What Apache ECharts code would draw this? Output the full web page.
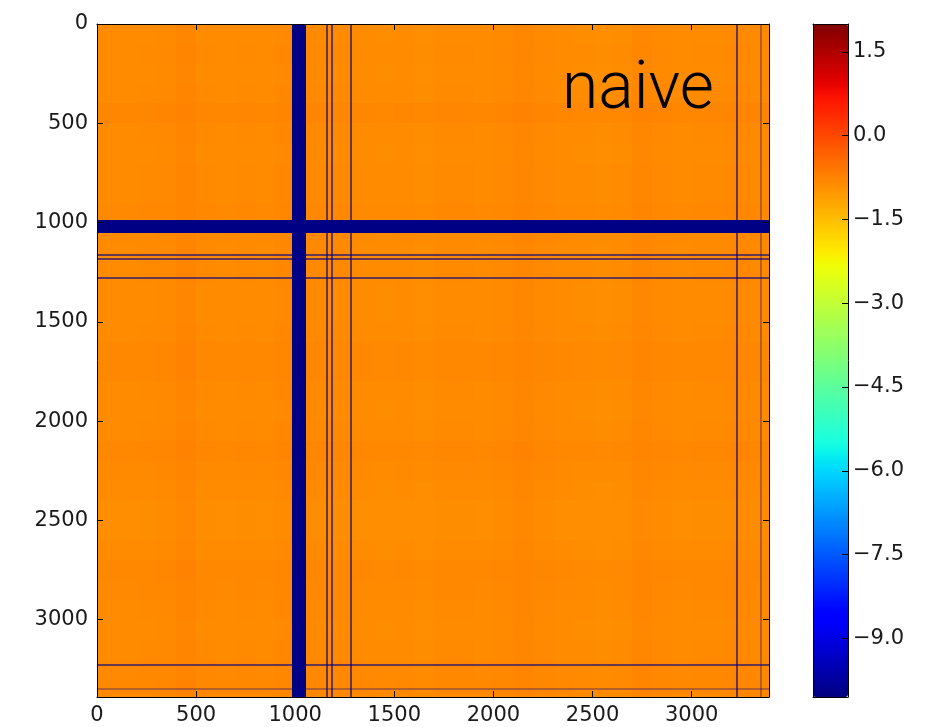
<!DOCTYPE html>
<html>
<head>
<meta charset="utf-8">
<script src="https://cdn.jsdelivr.net/npm/echarts@6/dist/echarts.min.js"></script>
<style>
  html, body { margin: 0; padding: 0; background: #fff; }
  #chart { width: 938px; height: 727px; }
</style>
</head>
<body>
<div id="chart"></div>
<script>
// Matrix size (rows = columns) and colour scale limits
const matrixSize = 3390;
const colorMin = -10.05;
const colorMax = 2.0;

// Tick labels
const axisTicks = [0, 500, 1000, 1500, 2000, 2500, 3000];
const colorbarTicks = [1.5, 0.0, -1.5, -3.0, -4.5, -6.0, -7.5, -9.0];

// Typical off-band value and its slow variation along rows / columns (per 100-index block)
const baseValue = -0.87;
const blockSize = 100;
const colTint = [0.00, 0.00, 0.01, 0.02, 0.07, 0.01, 0.00, 0.01, 0.00, 0.03,
                 0.02, 0.01, 0.01, 0.00, -0.01, 0.00, -0.02, 0.01, 0.01, 0.00,
                 0.02, 0.06, 0.02, 0.00, -0.01, -0.02, -0.01, 0.05, 0.02, 0.00,
                 0.01, 0.01, 0.03, 0.02];
const rowTint = [0.00, 0.01, 0.00, 0.01, 0.06, 0.01, 0.00, 0.01, 0.01, 0.03,
                 0.02, 0.01, 0.01, 0.00, 0.00, 0.01, 0.04, 0.04, 0.01, 0.00,
                 0.01, 0.05, 0.02, 0.00, -0.02, -0.02, 0.00, 0.04, 0.03, 0.01,
                 0.00, 0.01, 0.03, 0.04];

// Degenerate rows/columns (same index set for rows and columns)
const bandValue = -10.0;
const wideBands = [[985, 1055]];              // [start, end]
const narrowLines = [1157, 1180, 1276, 3222]; // start index
const faintLines = [3346];
const lineWidth = 10;

// ---- rectangle records [x0, x1, y0, y1, value] ----
const bgData = [];
for (let r = 0; r < rowTint.length; r++) {
  const y0 = r * blockSize, y1 = Math.min(matrixSize, (r + 1) * blockSize);
  for (let c = 0; c < colTint.length; c++) {
    const x0 = c * blockSize, x1 = Math.min(matrixSize, (c + 1) * blockSize);
    bgData.push([x0, x1, y0, y1, +(baseValue + rowTint[r] + colTint[c]).toFixed(3)]);
  }
}
function crossRects(ranges) {
  const out = [];
  ranges.forEach(([a, b]) => {
    out.push([a, b, 0, matrixSize, bandValue]);   // column
    out.push([0, matrixSize, a, b, bandValue]);   // row
  });
  return out;
}
const narrowData = crossRects(narrowLines.map(p => [p, p + lineWidth]));
const faintData = crossRects(faintLines.map(p => [p, p + lineWidth]));
const wideData = crossRects(wideBands);

// matplotlib "jet" colormap
function jet(f) {
  const clamp = v => Math.max(0, Math.min(1, v));
  let r, g, b;
  if (f < 0.35) r = 0; else if (f < 0.66) r = (f - 0.35) / 0.31; else if (f < 0.89) r = 1; else r = 1 - (f - 0.89) / 0.11 * 0.5;
  if (f < 0.125) g = 0; else if (f < 0.375) g = (f - 0.125) / 0.25; else if (f < 0.64) g = 1; else g = (0.91 - f) / 0.27;
  if (f < 0.11) b = 0.5 + f / 0.11 * 0.5; else if (f < 0.34) b = 1; else if (f < 0.65) b = (0.65 - f) / 0.31; else b = 0;
  const h = v => Math.round(clamp(v) * 255);
  return 'rgb(' + h(r) + ',' + h(g) + ',' + h(b) + ')';
}
const jetColors = [];
for (let i = 0; i <= 128; i++) jetColors.push(jet(i / 128));

function rectRenderer(opacity) {
  return function (params, api) {
    const a = api.coord([api.value(0), api.value(2)]);
    const b = api.coord([api.value(1), api.value(3)]);
    const x0 = Math.round(Math.min(a[0], b[0])), x1 = Math.round(Math.max(a[0], b[0]));
    const y0 = Math.round(Math.min(a[1], b[1])), y1 = Math.round(Math.max(a[1], b[1]));
    return {
      type: 'rect',
      shape: { x: x0, y: y0, width: Math.max(1, x1 - x0), height: Math.max(1, y1 - y0) },
      style: { fill: api.visual('color'), opacity: opacity },
      silent: true
    };
  };
}

const labelFont = { fontFamily: 'DejaVu Sans', fontSize: 21, color: '#1a1a1a' };
const frameLine = { show: true, onZero: false, lineStyle: { color: '#000', width: 1 } };
const tickIn = { show: true, inside: true, length: 6, lineStyle: { color: '#000' }, customValues: axisTicks };
const tickInBar = { show: true, inside: true, length: 6, lineStyle: { color: '#000' }, customValues: colorbarTicks };
const fmtAxis = v => String(v);
const fmtBar = v => (v < 0 ? '\u2212' : '') + Math.abs(v).toFixed(1);
const noLabel = { show: false };
const noTick = { show: false };
const noSplit = { show: false };

const chart = echarts.init(document.getElementById('chart'), null, { renderer: 'canvas' });
const seriesCommon = () => ({ type: 'custom', xAxisIndex: 0, yAxisIndex: 0, encode: { x: [0, 1], y: [2, 3] }, animation: false, clip: true });

chart.setOption({
  animation: false,
  backgroundColor: '#fff',
  grid: [
    { left: 97, top: 24, width: 672, height: 673 },
    { left: 813, top: 24, width: 35, height: 673 }
  ],
  xAxis: [
    { gridIndex: 0, type: 'value', position: 'bottom', min: 0, max: matrixSize, z: 10,
      axisLine: frameLine, axisTick: tickIn, splitLine: noSplit,
      axisLabel: Object.assign({ margin: 8, customValues: axisTicks, formatter: fmtAxis }, labelFont) },
    { gridIndex: 0, type: 'value', position: 'top', min: 0, max: matrixSize, z: 10,
      axisLine: frameLine, axisTick: tickIn, splitLine: noSplit, axisLabel: noLabel },
    { gridIndex: 1, type: 'value', position: 'bottom', min: 0, max: 1, z: 10,
      axisLine: frameLine, axisTick: noTick, splitLine: noSplit, axisLabel: noLabel },
    { gridIndex: 1, type: 'value', position: 'top', min: 0, max: 1, z: 10,
      axisLine: frameLine, axisTick: noTick, splitLine: noSplit, axisLabel: noLabel }
  ],
  yAxis: [
    { gridIndex: 0, type: 'value', position: 'left', inverse: true, min: 0, max: matrixSize, z: 10,
      axisLine: frameLine, axisTick: tickIn, splitLine: noSplit,
      axisLabel: Object.assign({ margin: 9, customValues: axisTicks, formatter: fmtAxis }, labelFont) },
    { gridIndex: 0, type: 'value', position: 'right', inverse: true, min: 0, max: matrixSize, z: 10,
      axisLine: frameLine, axisTick: tickIn, splitLine: noSplit, axisLabel: noLabel },
    { gridIndex: 1, type: 'value', position: 'right', min: colorMin, max: colorMax, z: 10,
      axisLine: frameLine, axisTick: tickInBar, splitLine: noSplit,
      axisLabel: Object.assign({ margin: 5, customValues: colorbarTicks, formatter: fmtBar }, labelFont) },
    { gridIndex: 1, type: 'value', position: 'left', min: colorMin, max: colorMax, z: 10,
      axisLine: frameLine, axisTick: noTick, splitLine: noSplit, axisLabel: noLabel }
  ],
  visualMap: {
    type: 'continuous',
    min: colorMin, max: colorMax,
    dimension: 4,
    seriesIndex: [0, 1, 2, 3],
    calculable: false,
    orient: 'vertical',
    left: 813, top: 24,
    itemWidth: 35, itemHeight: 673,
    padding: 0,
    text: null,
    z: 2,
    inRange: { color: jetColors }
  },
  series: [
    Object.assign(seriesCommon(), { name: 'matrix', data: bgData, renderItem: rectRenderer(1) }),
    Object.assign(seriesCommon(), { name: 'narrow', data: narrowData, renderItem: rectRenderer(0.6) }),
    Object.assign(seriesCommon(), { name: 'faint', data: faintData, renderItem: rectRenderer(0.3) }),
    Object.assign(seriesCommon(), { name: 'wide', data: wideData, renderItem: rectRenderer(1) })
  ],
  graphic: [
    { type: 'text', left: 562, top: 58, z: 100,
      style: { text: 'naive', fontFamily: 'Roboto', fontWeight: 300, fontSize: 66, fill: '#000' } }
  ]
});
</script>
</body>
</html>
